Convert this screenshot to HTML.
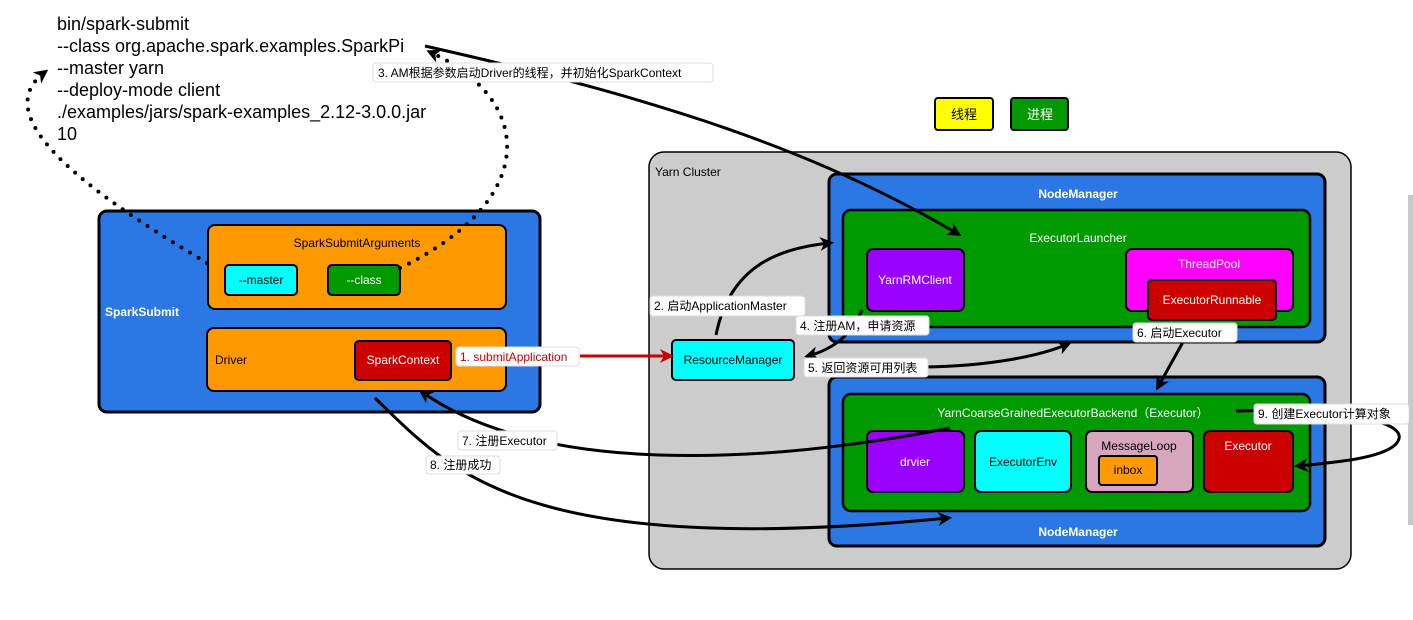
<!DOCTYPE html>
<html><head><meta charset="utf-8"><style>
html,body{margin:0;padding:0;background:#fff;width:1413px;height:620px;overflow:hidden}
svg{display:block}
text{font-family:"Liberation Sans","Noto Sans CJK SC",sans-serif}
</style></head><body>
<svg width="1413" height="620" viewBox="0 0 1413 620" xmlns="http://www.w3.org/2000/svg">
<defs>
<marker id="ah" markerWidth="14" markerHeight="14" refX="10" refY="7" orient="auto" markerUnits="userSpaceOnUse"><path d="M0,0 L14,7 L0,14 L4,7 z" fill="#000"/></marker>
<marker id="ar" markerWidth="14" markerHeight="14" refX="10" refY="7" orient="auto" markerUnits="userSpaceOnUse"><path d="M0,0 L14,7 L0,14 L4,7 z" fill="#c00"/></marker>
</defs>
<rect x="1408" y="195" width="5" height="330" fill="#c8c8c8"/>
<g font-size="18" fill="#000">
<text x="57" y="30">bin/spark-submit</text>
<text x="57" y="52">--class org.apache.spark.examples.SparkPi</text>
<text x="57" y="74">--master yarn</text>
<text x="57" y="96">--deploy-mode client</text>
<text x="57" y="118">./examples/jars/spark-examples_2.12-3.0.0.jar</text>
<text x="57" y="140">10</text>
</g>
<rect x="935" y="98" width="58" height="32" rx="3" fill="#ffff00" stroke="#000" stroke-width="2"/>
<text x="964" y="119" font-size="13" text-anchor="middle">线程</text>
<rect x="1011" y="98" width="57" height="32" rx="3" fill="#009900" stroke="#000" stroke-width="2"/>
<text x="1040" y="119" font-size="13" text-anchor="middle" fill="#fff">进程</text>
<rect x="99" y="211" width="441" height="201" rx="8" fill="#2b78e4" stroke="#000" stroke-width="3"/>
<text x="105" y="316" font-size="12" fill="#fff" font-weight="bold">SparkSubmit</text>
<rect x="208" y="225" width="298" height="84" rx="7" fill="#ff9900" stroke="#000" stroke-width="2"/>
<text x="357" y="247" font-size="12" text-anchor="middle">SparkSubmitArguments</text>
<rect x="225" y="265" width="72" height="30" rx="4" fill="#00ffff" stroke="#000" stroke-width="2"/>
<text x="261" y="284" font-size="12" text-anchor="middle">--master</text>
<rect x="328" y="265" width="72" height="30" rx="4" fill="#009900" stroke="#000" stroke-width="2"/>
<text x="364" y="284" font-size="12" text-anchor="middle" fill="#fff">--class</text>
<rect x="207" y="328" width="299" height="63" rx="7" fill="#ff9900" stroke="#000" stroke-width="2"/>
<text x="215" y="364" font-size="12">Driver</text>
<rect x="355" y="341" width="96" height="39" rx="4" fill="#cc0000" stroke="#000" stroke-width="2"/>
<text x="403" y="364" font-size="12" text-anchor="middle" fill="#fff">SparkContext</text>
<rect x="649" y="152" width="702" height="417" rx="15" fill="#cccccc" stroke="#000" stroke-width="1.5"/>
<text x="655" y="176" font-size="12">Yarn Cluster</text>
<rect x="829" y="174" width="496" height="168" rx="8" fill="#2b78e4" stroke="#000" stroke-width="3"/>
<text x="1078" y="198" font-size="12" fill="#fff" text-anchor="middle" font-weight="bold">NodeManager</text>
<rect x="843" y="210" width="467" height="117" rx="8" fill="#009900" stroke="#000" stroke-width="2.5"/>
<text x="1078" y="242" font-size="12" fill="#fff" text-anchor="middle">ExecutorLauncher</text>
<rect x="867" y="249" width="97" height="62" rx="6" fill="#9900ff" stroke="#000" stroke-width="2"/>
<text x="915" y="284" font-size="12" fill="#fff" text-anchor="middle">YarnRMClient</text>
<rect x="1126" y="249" width="167" height="62" rx="6" fill="#ff00ff" stroke="#000" stroke-width="2"/>
<text x="1209" y="268" font-size="12" fill="#fff" text-anchor="middle">ThreadPool</text>
<rect x="1148" y="280" width="128" height="40" rx="4" fill="#cc0000" stroke="#000" stroke-width="2"/>
<text x="1212" y="304" font-size="12" fill="#fff" text-anchor="middle">ExecutorRunnable</text>
<rect x="672" y="340" width="122" height="40" rx="4" fill="#00ffff" stroke="#000" stroke-width="2"/>
<text x="733" y="364" font-size="12" text-anchor="middle">ResourceManager</text>
<rect x="829" y="377" width="496" height="169" rx="8" fill="#2b78e4" stroke="#000" stroke-width="3"/>
<text x="1078" y="536" font-size="12" fill="#fff" text-anchor="middle" font-weight="bold">NodeManager</text>
<rect x="843" y="394" width="467" height="117" rx="8" fill="#009900" stroke="#000" stroke-width="2.5"/>
<text x="1073" y="417" font-size="12" fill="#fff" text-anchor="middle">YarnCoarseGrainedExecutorBackend（Executor）</text>
<rect x="867" y="431" width="97" height="61" rx="6" fill="#9900ff" stroke="#000" stroke-width="2"/>
<text x="915" y="466" font-size="12" fill="#fff" text-anchor="middle">drvier</text>
<rect x="975" y="431" width="96" height="61" rx="6" fill="#00ffff" stroke="#000" stroke-width="2"/>
<text x="1023" y="466" font-size="12" text-anchor="middle">ExecutorEnv</text>
<rect x="1086" y="431" width="107" height="61" rx="6" fill="#d5a6bd" stroke="#000" stroke-width="2"/>
<text x="1139" y="450" font-size="12" text-anchor="middle">MessageLoop</text>
<rect x="1099" y="456" width="58" height="29" rx="3" fill="#ff9900" stroke="#000" stroke-width="2"/>
<text x="1128" y="474" font-size="12" text-anchor="middle">inbox</text>
<rect x="1204" y="431" width="89" height="61" rx="6" fill="#cc0000" stroke="#000" stroke-width="2"/>
<text x="1248" y="450" font-size="12" fill="#fff" text-anchor="middle">Executor</text>
<g fill="none" stroke="#000" stroke-width="3">
<path d="M207,263 C110,205 -20,120 45,72" stroke-dasharray="0 10" stroke-linecap="round" stroke-width="4" marker-end="url(#ah)"/>
<path d="M400,268 C540,200 535,100 430,52" stroke-dasharray="0 10" stroke-linecap="round" stroke-width="4" marker-end="url(#ah)"/>
<path d="M425,46 C620,90 800,140 958,234" marker-end="url(#ah)"/>
<path d="M716,335 C730,265 780,248 830,243" marker-end="url(#ah)"/>
<path d="M862,310 C850,338 830,350 808,356" marker-end="url(#ah)"/>
<path d="M925,367 C990,366 1040,356 1068,344" marker-end="url(#ah)"/>
<path d="M1183,342 L1158,387" marker-end="url(#ah)"/>
<path d="M1236,411 C1330,408 1420,420 1395,445 C1380,458 1340,462 1298,466" marker-end="url(#ah)"/>
<path d="M950,428 C760,465 540,475 422,392" marker-end="url(#ah)"/>
<path d="M375,398 C450,470 520,560 948,518" marker-end="url(#ah)"/>
</g>
<path d="M580,356 L670,356" stroke="#c00" stroke-width="3" fill="none" marker-end="url(#ar)"/>
<g font-size="12">
<rect x="456" y="347" width="123" height="19" rx="3" fill="#fff" stroke="#ddd"/>
<text x="460" y="361" fill="#c00">1. submitApplication</text>
<rect x="373" y="63" width="340" height="19" rx="3" fill="#fff" stroke="#ddd"/>
<text x="378" y="77">3. AM根据参数启动Driver的线程，并初始化SparkContext</text>
<rect x="650" y="296" width="155" height="20" rx="3" fill="#fff" stroke="#ddd"/>
<text x="654" y="310">2. 启动ApplicationMaster</text>
<rect x="796" y="316" width="133" height="19" rx="3" fill="#fff" stroke="#ddd"/>
<text x="800" y="330">4. 注册AM，申请资源</text>
<rect x="804" y="358" width="124" height="19" rx="3" fill="#fff" stroke="#ddd"/>
<text x="808" y="372">5. 返回资源可用列表</text>
<rect x="1133" y="323" width="104" height="19" rx="3" fill="#fff" stroke="#ddd"/>
<text x="1137" y="337">6. 启动Executor</text>
<rect x="1254" y="404" width="155" height="20" rx="3" fill="#fff" stroke="#ddd"/>
<text x="1258" y="418">9. 创建Executor计算对象</text>
<rect x="458" y="431" width="99" height="19" rx="3" fill="#fff" stroke="#ddd"/>
<text x="462" y="445">7. 注册Executor</text>
<rect x="426" y="456" width="74" height="18" rx="3" fill="#fff" stroke="#ddd"/>
<text x="430" y="469">8. 注册成功</text>
</g>
</svg>
</body></html>
